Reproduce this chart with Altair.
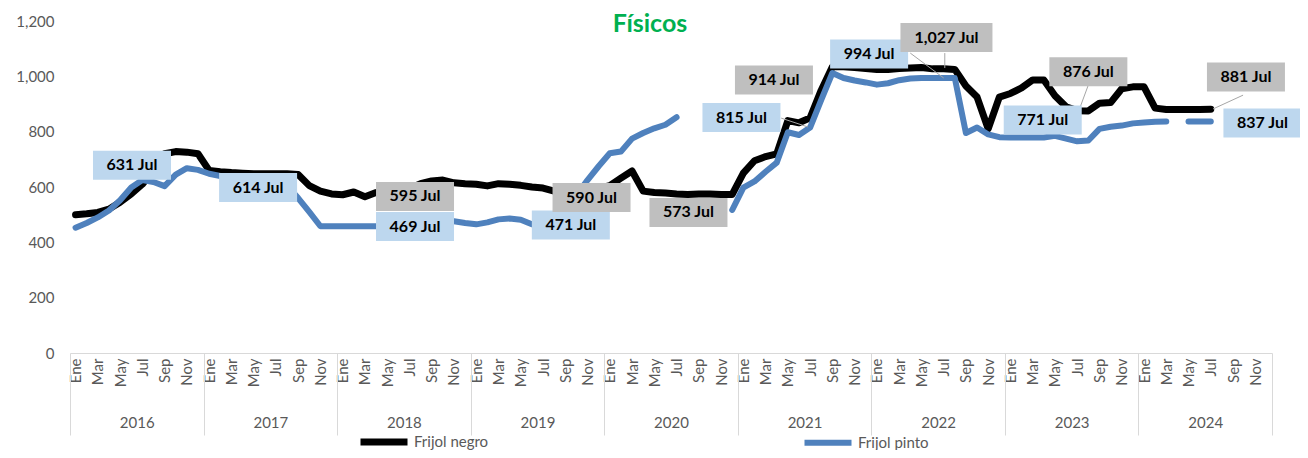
import altair as alt
import pandas as pd

# ---------------- data ----------------
month_names = ["Ene", "Feb", "Mar", "Abr", "May", "Jun", "Jul", "Ago", "Sep", "Oct", "Nov", "Dic"]
years = [2016, 2017, 2018, 2019, 2020, 2021, 2022, 2023, 2024]

negro_2016 = [500, 503, 508, 520, 545, 575, 610, 660, 720, 728, 726, 720]
negro_2017 = [660, 655, 652, 650, 648, 648, 648, 648, 645, 605, 585, 575]
negro_2018 = [572, 582, 565, 580, 590, 598, 595, 612, 622, 625, 615, 612]
negro_2019 = [610, 604, 612, 610, 606, 600, 596, 585, 585, 585, 588, 595]
negro_2020 = [605, 632, 658, 585, 580, 578, 575, 573, 575, 575, 573, 573]
negro_2021 = [650, 695, 710, 720, 840, 832, 850, 950, 1035, 1035, 1032, 1028]
negro_2022 = [1025, 1025, 1028, 1030, 1032, 1027, 1027, 1025, 965, 925, 810, 925]
negro_2023 = [938, 958, 987, 987, 930, 890, 876, 875, 903, 905, 955, 962]
negro_2024 = [962, 885, 880, 880, 880, 880, 881, None, None, None, None, None]

pinto_2016 = [453, 470, 490, 515, 552, 598, 625, 618, 603, 645, 668, 662]
pinto_2017 = [648, 640, 630, 625, 620, 617, 614, 605, 560, 510, 458, 458]
pinto_2018 = [458, 458, 458, 458, 458, 460, 469, 470, 473, 476, 476, 470]
pinto_2019 = [465, 472, 483, 486, 482, 465, 471, 490, 520, 570, 625, 675]
pinto_2020 = [722, 728, 775, 795, 812, 825, 852, None, None, None, None, 517]
pinto_2021 = [598, 620, 655, 688, 798, 788, 815, 915, 1012, 994, 985, 978]
pinto_2022 = [970, 975, 986, 992, 994, 994, 994, 994, 795, 815, 790, 780]
pinto_2023 = [779, 779, 779, 779, 785, 775, 765, 768, 810, 818, 822, 830]
pinto_2024 = [833, 836, 837, None, 837, 837, 837, None, None, None, None, None]

frijol_negro = (negro_2016 + negro_2017 + negro_2018 + negro_2019 + negro_2020
                + negro_2021 + negro_2022 + negro_2023 + negro_2024)
frijol_pinto = (pinto_2016 + pinto_2017 + pinto_2018 + pinto_2019 + pinto_2020
                + pinto_2021 + pinto_2022 + pinto_2023 + pinto_2024)

series_names = ["Frijol negro", "Frijol pinto"]
series_colors = ["#000000", "#4F81BD"]

# data labels (text, series, anchor month position, anchor value)
label_text = ["631 Jul", "614 Jul", "469 Jul", "595 Jul", "471 Jul", "590 Jul", "573 Jul",
              "815 Jul", "914 Jul", "994 Jul", "1,027 Jul", "771 Jul", "876 Jul", "837 Jul", "881 Jul"]
label_series = ["Frijol pinto", "Frijol pinto", "Frijol pinto", "Frijol negro", "Frijol pinto",
                "Frijol negro", "Frijol negro", "Frijol pinto", "Frijol negro", "Frijol pinto",
                "Frijol negro", "Frijol pinto", "Frijol negro", "Frijol pinto", "Frijol negro"]
label_t = [5.57, 16.9, 31.0, 31.0, 45.0, 46.86, 55.57, 60.33, 63.25, 71.8, 78.75, 87.4, 91.5, 107.14, 105.66]
label_v = [679, 598, 457, 566, 463, 562, 508, 851, 987, 1081, 1140, 842, 1017, 831, 998]

# leader lines of the labels
leader_t1 = [78.6, 75.5, 91.5, 105.4, 63.9]
leader_v1 = [1084, 1084, 969, 932, 849]
leader_t2 = [78.6, 78.5, 90.7, 102.7, 66.3]
leader_v2 = [1030, 994, 882, 882, 817]

# ---------------- tables ----------------
rows = []
for name, vals in zip(series_names, [frijol_negro, frijol_pinto]):
    seg = 0
    for i, v in enumerate(vals):
        if v is None:
            seg += 1
            continue
        rows.append({"t": i + 0.5, "v": v, "series": name, "seg": f"{name}-{seg}"})
df_lines = pd.DataFrame(rows)

PLOT_W, PLOT_H = 1202, 332
N_MONTHS = 108
px_t = PLOT_W / N_MONTHS
px_v = PLOT_H / 1200.0

df_labels = pd.DataFrame({"text": label_text, "series": label_series, "t": label_t, "v": label_v})
df_labels["w"] = df_labels["text"].str.len().map(lambda n: 78 if n <= 7 else 92)
df_labels["x0"] = df_labels["t"] - df_labels["w"] / 2 / px_t
df_labels["x1"] = df_labels["t"] + df_labels["w"] / 2 / px_t
df_labels["y0"] = df_labels["v"] - 14.5 / px_v
df_labels["y1"] = df_labels["v"] + 14.5 / px_v

df_leaders = pd.DataFrame({"t1": leader_t1, "v1": leader_v1, "t2": leader_t2, "v2": leader_v2})

# ---------------- chart ----------------
FONT = "Lato"
GREY_TXT = "#595959"
xscale = alt.Scale(domain=[0, N_MONTHS], nice=False, zero=False)
yscale = alt.Scale(domain=[0, 1200], nice=False)

month_vals = [i + 0.5 for i in range(0, N_MONTHS, 2)]
month_expr = "['" + "','".join(month_names) + "'][floor(datum.value) % 12]"

month_axis = alt.Axis(orient="bottom", values=month_vals, labelExpr=month_expr, labelAngle=270,
                      ticks=False, tickSize=0, domain=False, grid=False, labelPadding=5,
                      labelFontSize=15, labelFont=FONT, labelColor=GREY_TXT, title=None,
                      labelOverlap=False)
bound_axis = alt.Axis(orient="bottom", values=list(range(0, N_MONTHS + 1, 12)), labels=False,
                      ticks=True, tickSize=82, tickColor="#D9D9D9", tickWidth=1,
                      domain=True, domainColor="#D9D9D9", domainWidth=1, grid=False, title=None)
year_axis = alt.Axis(orient="bottom", values=list(range(6, N_MONTHS, 12)),
                     labelExpr="'' + (2016 + floor(datum.value / 12))",
                     ticks=False, tickSize=0, domain=False, grid=False, labelPadding=62,
                     labelFontSize=15, labelFont=FONT, labelColor=GREY_TXT, title=None)
y_axis = alt.Axis(values=list(range(0, 1201, 200)), labelExpr="format(datum.value, ',')",
                  grid=False, domain=False, ticks=False, labelPadding=16, labelFontSize=15,
                  labelFont=FONT, labelColor=GREY_TXT, title=None)

color = alt.Color("series:N", scale=alt.Scale(domain=series_names, range=series_colors),
                  legend=alt.Legend(orient="none", legendX=287, legendY=394, direction="horizontal",
                                    columns=2, columnPadding=303, symbolType="stroke",
                                    symbolStrokeWidth=7, symbolSize=2209, labelFontSize=15,
                                    labelFont=FONT, labelColor=GREY_TXT, title=None, padding=0,
                                    labelOffset=3))

lines = alt.Chart(df_lines).mark_line(strokeCap="round", strokeJoin="round").encode(
    x=alt.X("t:Q", scale=xscale, axis=month_axis),
    y=alt.Y("v:Q", scale=yscale, axis=y_axis),
    color=color,
    strokeWidth=alt.StrokeWidth("series:N", scale=alt.Scale(domain=series_names, range=[7, 6]), legend=None),
    detail="seg:N",
    order="t:Q",
)

leaders = alt.Chart(df_leaders).mark_rule(color="#A6A6A6", strokeWidth=1).encode(
    x=alt.X("t1:Q", scale=xscale, axis=None),
    x2="t2:Q",
    y=alt.Y("v1:Q", scale=yscale, axis=y_axis),
    y2="v2:Q",
)

boxes = alt.Chart(df_labels).mark_rect().encode(
    x=alt.X("x0:Q", scale=xscale, axis=bound_axis),
    x2="x1:Q",
    y=alt.Y("y0:Q", scale=yscale, axis=y_axis),
    y2="y1:Q",
    fill=alt.Fill("series:N", scale=alt.Scale(domain=series_names, range=["#BFBFBF", "#BDD7EE"]), legend=None),
)

texts = alt.Chart(df_labels).mark_text(font=FONT, fontSize=16, fontWeight="bold", color="#000000",
                                       align="center", baseline="middle").encode(
    x=alt.X("t:Q", scale=xscale, axis=year_axis),
    y=alt.Y("v:Q", scale=yscale, axis=y_axis),
    text="text:N",
)

chart = alt.layer(lines, leaders, boxes, texts).resolve_axis(x="independent", y="shared").resolve_scale(
    color="independent", fill="independent", strokeWidth="independent"
).properties(
    width=PLOT_W,
    height=PLOT_H,
    title=alt.TitleParams("Físicos", fontSize=25, font=FONT, fontWeight="bold", color="#00B050",
                          anchor="middle", dx=-21, offset=-23),
    autosize=alt.AutoSizeParams(type="none"),
    padding={"left": 62, "top": 13, "right": 28, "bottom": 97},
).configure(background="white").configure_view(stroke=None)

chart.save("out.html", embed_options={"renderer": "svg", "actions": False})
